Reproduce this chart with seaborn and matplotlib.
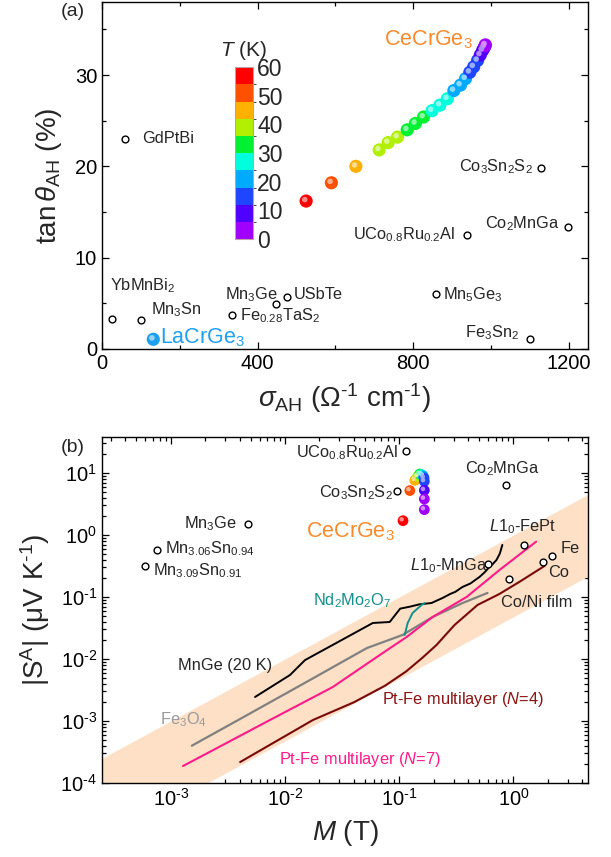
import numpy as np
import matplotlib
matplotlib.use("Agg")
import matplotlib.pyplot as plt
import matplotlib.colors as mcolors
from matplotlib.transforms import offset_copy
from matplotlib.ticker import MultipleLocator, FuncFormatter
import seaborn as sns

# ---------------- panel (a) data ----------------
ref_names_a = ["GdPtBi", "YbMnBi2", "Mn3Sn", "Mn3Ge", "USbTe", "Fe0.28TaS2",
               "Mn5Ge3", "Fe3Sn2", "UCo0.8Ru0.2Al", "Co2MnGa", "Co3Sn2S2"]
ref_sigma = [60, 25, 100, 448, 476, 335, 858, 1100, 938, 1198, 1128]
ref_tan = [23.0, 3.25, 3.2, 4.9, 5.7, 3.7, 6.0, 1.06, 12.5, 13.4, 19.8]

la_sigma = [132]
la_tan = [1.06]

ce_sigma = [525, 590, 653, 713, 736, 760, 785, 806, 827, 849, 869, 888,
            905, 922, 935, 946, 956, 966, 973, 979, 983, 985, 986]
ce_tan = [16.2, 18.2, 20.0, 21.8, 22.6, 23.2, 24.0, 24.7, 25.4, 26.1, 26.7,
          27.4, 28.3, 28.9, 29.6, 30.3, 30.9, 31.6, 32.2, 32.7, 33.0, 33.2, 33.3]
ce_T = [57, 51, 45, 41, 39.5, 37, 35, 33, 31, 29, 27.5, 25, 23, 21.5, 19.5,
        17, 15, 13, 11, 9, 7, 4, 2]

# ---------------- panel (b) data ----------------
ref_M = [0.115, 0.86, 0.096, 0.0047, 7.55e-4, 5.97e-4, 1.24, 2.18, 1.81, 0.91, 0.605]
ref_S = [22.3, 6.5, 5.06, 1.5, 0.566, 0.32, 0.70, 0.46, 0.362, 0.198, 0.345]

ce_M = [0.108, 0.124, 0.137, 0.145, 0.151, 0.157, 0.162, 0.165, 0.166, 0.166, 0.166, 0.166]
ce_S = [1.70, 5.2, 7.6, 8.8, 9.6, 9.4, 9.0, 8.3, 7.3, 5.25, 3.8, 2.56]
ce_Tb = [58, 52, 45, 40, 33, 28, 22, 17, 14, 9, 5, 2]

band_M = [2.5e-4, 4.5]
band_lo = [1.2e-5, 0.216]
band_hi = [2.5e-4, 4.5]

mnge_M = [5.47e-3, 1.107e-2, 1.497e-2, 0.0588, 0.0826, 0.102, 0.125, 0.15, 0.192,
          0.215, 0.24, 0.28, 0.31, 0.358, 0.42, 0.504, 0.56, 0.617, 0.66, 0.711, 0.76, 0.80]
mnge_S = [2.44e-3, 5.52e-3, 9.6e-3, 0.0381, 0.0395, 0.0649, 0.070, 0.076, 0.080,
          0.088, 0.0964, 0.112, 0.121, 0.145, 0.165, 0.21, 0.25, 0.305, 0.34, 0.395, 0.50, 0.69]

fe3o4_M = [1.53e-3, 4.05e-3, 1.655e-2, 0.0521, 0.107, 0.196, 0.359, 0.593]
fe3o4_S = [4.0e-4, 1.08e-3, 4.58e-3, 0.0150, 0.0244, 0.0475, 0.080, 0.116]

ptfe7_M = [1.28e-3, 7.4e-3, 0.0262, 0.0718, 0.116, 0.196, 0.389, 0.755, 1.58]
ptfe7_S = [1.88e-4, 1.04e-3, 3.53e-3, 0.0125, 0.0226, 0.0475, 0.10, 0.272, 0.78]

ptfe4_M = [4.05e-3, 0.0176, 0.040, 0.075, 0.115, 0.16, 0.212, 0.305, 0.485, 0.755, 1.127, 1.87]
ptfe4_S = [2.18e-4, 1.04e-3, 2.0e-3, 3.7e-3, 6.3e-3, 1.05e-2, 0.0168, 0.0353, 0.0743, 0.112, 0.175, 0.316]

ndmo_M = [0.1117, 0.1186, 0.131, 0.157, 0.167]
ndmo_S = [0.0244, 0.038, 0.0552, 0.0743, 0.080]

# colour scale for T (K)
T_bounds = [0, 6, 12, 18, 24, 30, 36, 42, 48, 54, 60]
T_colors = ["#a000ff", "#5000ff", "#1e46ff", "#00aaff", "#00ffdc",
            "#00f032", "#b0f000", "#ffb000", "#ff5000", "#ff0000"]
T_ticks = [0, 10, 20, 30, 40, 50, 60]

sns.set_style("ticks")
plt.rcParams["font.family"] = ["Liberation Sans", "DejaVu Sans"]
plt.rcParams["mathtext.fontset"] = "custom"
plt.rcParams["mathtext.rm"] = "Liberation Sans"
plt.rcParams["mathtext.it"] = "Liberation Sans:italic"
plt.rcParams["mathtext.bf"] = "Liberation Sans:bold"

cmap = mcolors.ListedColormap(T_colors)
norm = mcolors.BoundaryNorm(T_bounds, cmap.N)

fig = plt.figure(figsize=(6.11, 8.57), dpi=100)
ax1 = fig.add_axes([0.1669, 0.5928, 0.7955, 0.4049])
ax2 = fig.add_axes([0.1669, 0.0863, 0.7955, 0.4038])

HY = r"\text{-}"


def balls(ax, x, y, colors, s):
    ax.scatter(x, y, c=colors, s=s, edgecolors="none", zorder=4)
    light = [tuple(0.45 * np.array(mcolors.to_rgb(c)) + 0.55) for c in colors]
    tr = offset_copy(ax.transData, fig=fig, x=-1.0, y=1.0, units="points")
    ax.scatter(x, y, c=light, s=s * 0.18, edgecolors="none", zorder=5, transform=tr)


def style(ax):
    ax.tick_params(which="both", direction="in", top=True, right=True,
                   labelsize=14.5, width=0.9, colors="black")
    ax.tick_params(which="major", length=5)
    ax.tick_params(which="minor", length=3)
    for sp in ax.spines.values():
        sp.set_linewidth(1.0)
        sp.set_color("black")


def log_label(v, pos):
    e = int(round(np.log10(v)))
    if e < 0:
        return "10$^{" + HY + str(-e) + "}$"
    return "10$^{" + str(e) + "}$"


# ---------------- panel (a) ----------------
sns.scatterplot(x=ref_sigma, y=ref_tan, ax=ax1, s=24, color="white",
                edgecolor="black", linewidth=1.0, zorder=3)
balls(ax1, la_sigma, la_tan, ["#1ea0f0"], 90)
balls(ax1, ce_sigma, ce_tan, [cmap(norm(t)) for t in ce_T], 90)

ax1.set_xlim(0, 1250)
ax1.set_ylim(0, 38)
ax1.xaxis.set_major_locator(MultipleLocator(400))
ax1.xaxis.set_minor_locator(MultipleLocator(200))
ax1.yaxis.set_major_locator(MultipleLocator(10))
ax1.yaxis.set_minor_locator(MultipleLocator(5))
style(ax1)
ax1.set_xlabel(r"$\sigma_{\rm AH}$ (Ω$^{" + HY + "1}$ cm$^{" + HY + "1}$)", fontsize=20, labelpad=6)
ax1.set_ylabel(r"tan$\,\theta_{\rm AH}$ (%)", fontsize=20, labelpad=8)

fs = 11.8
ax1.text(103, 23.0, "GdPtBi", fontsize=fs, ha="left", va="center")
ax1.text(20, 6.9, r"YbMnBi$_2$", fontsize=fs, ha="left", va="center")
ax1.text(125, 4.3, r"Mn$_3$Sn", fontsize=fs, ha="left", va="center")
ax1.text(148, 1.2, r"LaCrGe$_3$", fontsize=15.5, ha="left", va="center", color="#1ea0f0")
ax1.text(316, 6.0, r"Mn$_3$Ge", fontsize=fs, ha="left", va="center")
ax1.text(493, 6.0, "USbTe", fontsize=fs, ha="left", va="center")
ax1.text(354, 3.6, r"Fe$_{0.28}$TaS$_2$", fontsize=fs, ha="left", va="center")
ax1.text(910, 12.5, r"UCo$_{0.8}$Ru$_{0.2}$Al", fontsize=fs, ha="right", va="center")
ax1.text(1176, 13.7, r"Co$_2$MnGa", fontsize=fs, ha="right", va="center")
ax1.text(1108, 20.0, r"Co$_3$Sn$_2$S$_2$", fontsize=fs, ha="right", va="center")
ax1.text(878, 6.0, r"Mn$_5$Ge$_3$", fontsize=fs, ha="left", va="center")
ax1.text(1073, 1.8, r"Fe$_3$Sn$_2$", fontsize=fs, ha="right", va="center")
ax1.text(953, 33.9, r"CeCrGe$_3$", fontsize=15.5, ha="right", va="center", color="#f98a2c")
ax1.text(-0.06, 0.998, "(a)", transform=ax1.transAxes, fontsize=14, ha="center", va="top")

cax = fig.add_axes([0.384, 0.721, 0.030, 0.2007])
sm = matplotlib.cm.ScalarMappable(norm=norm, cmap=cmap)
cb = fig.colorbar(sm, cax=cax, ticks=T_ticks, spacing="proportional")
cb.ax.tick_params(length=0, labelsize=16.5, pad=3)
cb.outline.set_edgecolor("#c0a0a0")
cb.outline.set_linewidth(0.8)
cax.set_title(r"$T$ (K)", fontsize=15, pad=8)

# ---------------- panel (b) ----------------
ax2.set_xscale("log")
ax2.set_yscale("log")
ax2.fill_between(band_M, band_lo, band_hi, color="#fde0c6", lw=0, zorder=1)

sns.lineplot(x=fe3o4_M, y=fe3o4_S, ax=ax2, color="#808080", lw=1.6, sort=False, estimator=None, zorder=2)
sns.lineplot(x=ptfe7_M, y=ptfe7_S, ax=ax2, color="#ff1a8c", lw=1.5, sort=False, estimator=None, zorder=2)
sns.lineplot(x=ptfe4_M, y=ptfe4_S, ax=ax2, color="#7a0a0a", lw=1.5, sort=False, estimator=None, zorder=2)
sns.lineplot(x=mnge_M, y=mnge_S, ax=ax2, color="black", lw=1.4, sort=False, estimator=None, zorder=2)
sns.lineplot(x=ndmo_M, y=ndmo_S, ax=ax2, color="#13908a", lw=1.4, sort=False, estimator=None, zorder=2)

sns.scatterplot(x=ref_M, y=ref_S, ax=ax2, s=24, color="white",
                edgecolor="black", linewidth=1.0, zorder=3)
balls(ax2, ce_M, ce_S, [cmap(norm(t)) for t in ce_Tb], 60)

ax2.set_xlim(2.5e-4, 4.5)
ax2.set_ylim(1e-4, 38)
style(ax2)
ax2.xaxis.set_major_formatter(FuncFormatter(log_label))
ax2.yaxis.set_major_formatter(FuncFormatter(log_label))
ax2.set_xlabel(r"$M$ (T)", fontsize=20, labelpad=6)
ax2.set_ylabel(r"|S$^{\rm A}$| (μV K$^{" + HY + "1}$)", fontsize=20, labelpad=6)

ax2.text(0.099, 21, r"UCo$_{0.8}$Ru$_{0.2}$Al", fontsize=fs, ha="right", va="center")
ax2.text(0.80, 11.6, r"Co$_2$MnGa", fontsize=fs, ha="center", va="center")
ax2.text(0.0877, 4.76, r"Co$_3$Sn$_2$S$_2$", fontsize=fs, ha="right", va="center")
ax2.text(3.8e-3, 1.5, r"Mn$_3$Ge", fontsize=fs, ha="right", va="center")
ax2.text(8.95e-4, 0.594, r"Mn$_{3.06}$Sn$_{0.94}$", fontsize=fs, ha="left", va="center")
ax2.text(7.0e-4, 0.262, r"Mn$_{3.09}$Sn$_{0.91}$", fontsize=fs, ha="left", va="center")
ax2.text(0.037, 1.12, r"CeCrGe$_3$", fontsize=15.5, ha="center", va="center", color="#f98a2c")
ax2.text(1.2, 1.35, r"$L$1$_0$-FePt", fontsize=fs, ha="center", va="center")
ax2.text(2.61, 0.594, "Fe", fontsize=fs, ha="left", va="center")
ax2.text(2.03, 0.244, "Co", fontsize=fs, ha="left", va="center")
ax2.text(0.585, 0.32, r"$L$1$_0$-MnGa", fontsize=fs, ha="right", va="center")
ax2.text(0.78, 0.08, "Co/Ni film", fontsize=fs, ha="left", va="center")
ax2.text(0.0385, 0.086, r"Nd$_2$Mo$_2$O$_7$", fontsize=fs, ha="center", va="center", color="#13908a")
ax2.text(2.99e-3, 7.8e-3, "MnGe (20 K)", fontsize=fs, ha="center", va="center")
ax2.text(1.29e-3, 1.04e-3, r"Fe$_3$O$_4$", fontsize=fs, ha="center", va="center", color="#9a9a9a")
ax2.text(0.363, 2.26e-3, r"Pt-Fe multilayer ($N$=4)", fontsize=fs, ha="center", va="center", color="#8b1414")
ax2.text(0.0449, 2.41e-4, r"Pt-Fe multilayer ($N$=7)", fontsize=fs, ha="center", va="center", color="#ff1a8c")
ax2.text(-0.06, 0.995, "(b)", transform=ax2.transAxes, fontsize=14, ha="center", va="top")

fig.savefig("out.png", dpi=100)
